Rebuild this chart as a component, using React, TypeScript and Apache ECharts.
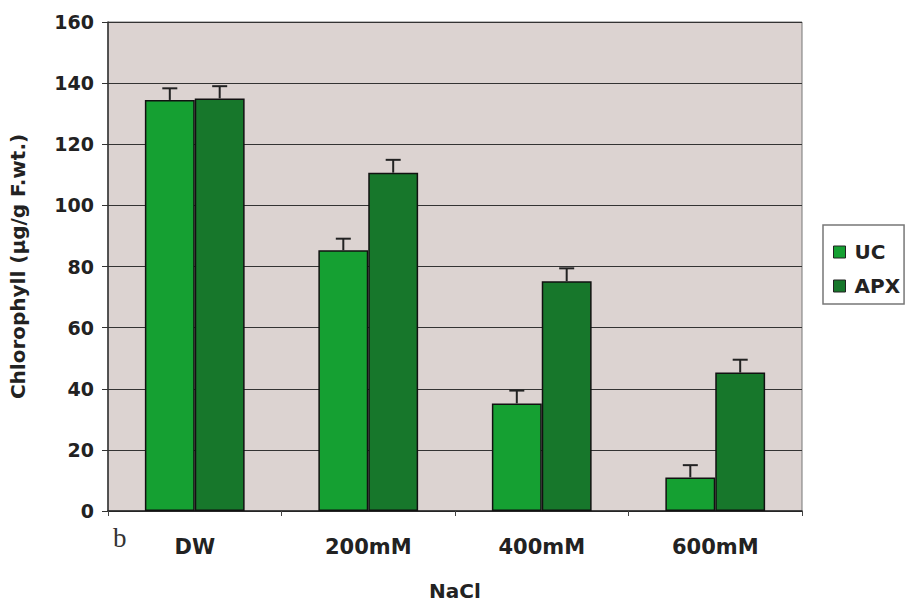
import React, { useEffect, useRef } from "react";
import * as echarts from "echarts";

const categories = ["DW", "200mM", "400mM", "600mM"];
const ucValues = [134.5, 85.3, 35.2, 11];
const apxValues = [135, 110.7, 75.2, 45.3];
const ucErrors = [3.8, 3.8, 4.2, 4];
const apxErrors = [4, 4.2, 4.2, 4.2];
const yTicks = { min: 0, max: 160, interval: 20 };

const UC_COLOR = "#15a032";
const APX_COLOR = "#17772b";
const BAR_FRAC = 0.2875;
const FONT = "DejaVu Sans, Liberation Sans, sans-serif";

function errorSeries(name: string, values: number[], errors: number[], side: number) {
  return {
    type: "custom",
    name: name + "-err",
    silent: true,
    z: 5,
    data: values.map((v, i) => [i, v, v + errors[i]]),
    renderItem: (params: any, api: any) => {
      const idx = api.value(0);
      const lo = api.coord([idx, api.value(1)]);
      const hi = api.coord([idx, api.value(2)]);
      const band = api.size([1, 0])[0];
      const x = lo[0] + side * band * BAR_FRAC * 0.5;
      const cap = 7.5;
      const style = { stroke: "#222", lineWidth: 2 };
      return {
        type: "group",
        children: [
          { type: "line", shape: { x1: x, y1: lo[1], x2: x, y2: hi[1] }, style },
          { type: "line", shape: { x1: x - cap, y1: hi[1], x2: x + cap, y2: hi[1] }, style },
        ],
      };
    },
  };
}

export default function App() {
  const ref = useRef<HTMLDivElement>(null);
  useEffect(() => {
    if (!ref.current) return;
    const chart = echarts.init(ref.current, null, { renderer: "svg" });
    chart.setOption({
      animation: false,
      backgroundColor: "#ffffff",
      textStyle: { fontFamily: FONT },
      grid: {
        left: 107,
        right: 108,
        top: 22,
        bottom: 93,
        show: true,
        backgroundColor: "#dcd3d1",
        borderColor: "#777",
        borderWidth: 1,
      },
      legend: {
        orient: "vertical",
        left: 823,
        top: 225,
        data: ["UC", "APX"],
        borderColor: "#777",
        borderWidth: 1.5,
        padding: [17, 4, 8, 10],
        itemWidth: 12,
        itemHeight: 12,
        itemGap: 14,
        icon: "rect",
        itemStyle: { borderColor: "#222", borderWidth: 1 },
        textStyle: { fontSize: 20, fontWeight: "bold", color: "#222", fontFamily: FONT, padding: [0, 0, 0, 4] },
      },
      xAxis: {
        type: "category",
        data: categories,
        name: "NaCl",
        nameLocation: "middle",
        nameGap: 70,
        nameTextStyle: { fontSize: 20, fontWeight: "bold", color: "#222", fontFamily: FONT },
        axisLine: { lineStyle: { color: "#222", width: 1.5 } },
        axisTick: { show: true, length: 5, lineStyle: { color: "#444" } },
        axisLabel: { fontSize: 21, fontWeight: "bold", color: "#222", margin: 25, fontFamily: FONT },
      },
      yAxis: {
        type: "value",
        min: yTicks.min,
        max: yTicks.max,
        interval: yTicks.interval,
        name: "Chlorophyll (µg/g F.wt.)",
        nameLocation: "middle",
        nameGap: 80,
        nameTextStyle: { fontSize: 20, fontWeight: "bold", color: "#222", fontFamily: FONT },
        axisLine: { show: true, lineStyle: { color: "#333", width: 1.5 } },
        axisTick: { show: true, length: 6, lineStyle: { color: "#333" } },
        axisLabel: { fontSize: 19, fontWeight: "bold", color: "#222", margin: 14, fontFamily: FONT },
        splitLine: { lineStyle: { color: "#333", width: 1 } },
      },
      series: [
        {
          name: "UC",
          type: "bar",
          data: ucValues,
          barWidth: BAR_FRAC * 100 + "%",
          barGap: "0%",
          itemStyle: { color: UC_COLOR, borderColor: "#111", borderWidth: 1.5 },
        },
        {
          name: "APX",
          type: "bar",
          data: apxValues,
          barWidth: BAR_FRAC * 100 + "%",
          barGap: "0%",
          itemStyle: { color: APX_COLOR, borderColor: "#111", borderWidth: 1.5 },
        },
        errorSeries("UC", ucValues, ucErrors, -1),
        errorSeries("APX", apxValues, apxErrors, 1),
      ],
      graphic: [
        {
          type: "text",
          left: 113,
          top: 524,
          style: { text: "b", fontSize: 27, fontFamily: "Liberation Serif, serif", fill: "#333" },
        },
      ],
    });
    return () => chart.dispose();
  }, []);
  return (
    <div
      ref={ref}
      style={{ position: "absolute", left: 0, top: 0, width: 910, height: 606 }}
    />
  );
}
